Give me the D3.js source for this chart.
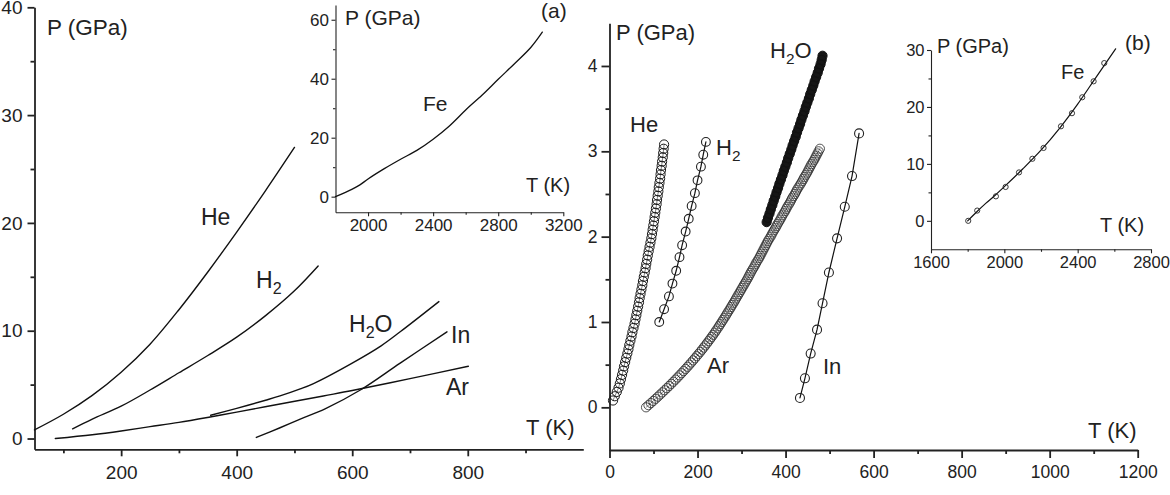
<!DOCTYPE html>
<html><head><meta charset="utf-8">
<script src="https://cdn.jsdelivr.net/npm/d3@7"></script>
<style>
html,body{margin:0;padding:0;background:#fff;}
svg{display:block;font-family:"Liberation Sans",Arial,sans-serif;}
</style></head><body>
<svg id="c" width="1170" height="495"></svg>
<script>
// ---------- data: left panel (melting curves) ----------
const heL_T = [50,100,150,200,250,300,350,400,450,500];
const heL_P = [0.8,2.25,4.0,6.15,8.75,11.95,15.45,19.15,23.0,27.0];
const h2L_T = [116,150,200,250,300,350,400,450,500,541];
const h2L_P = [0.9,1.8,3.0,4.5,6.1,7.7,9.4,11.4,13.7,16.0];
const arL_T = [86,150,200,250,300,354,400,475,550,600,700,801];
const arL_P = [0,0.35,0.7,1.1,1.5,2.0,2.45,3.2,3.95,4.45,5.55,6.7];
const h2oL_T = [355,400,450,475,510,533,600,650,683,750];
const h2oL_P = [2.16,2.8,3.55,3.95,4.6,5.1,7.0,8.6,9.9,12.7];
const inL_T = [434,475,510,553,614,683,764];
const inL_P = [0.1,1.0,1.8,2.75,4.5,7.0,9.9];
// inset (a)
const feA_T = [1800,1900,1950,2000,2100,2200,2300,2400,2500,2600,2700,2800,2900,3000,3071];
const feA_P = [0,2.5,4,6,9.5,12.7,15.7,19.5,24,29.4,34.4,39.8,45.1,50.6,55.8];

// ---------- data: right panel (points) ----------
const heR_P = [0.08,0.13,0.18,0.23,0.28,0.33,0.38,0.43,0.48,0.53,0.58,0.63,0.68,0.73,0.78,0.83,0.88,0.93,0.98,1.03,1.08,1.13,1.18,1.23,1.28,1.33,1.38,1.43,1.48,1.53,1.58,1.63,1.68,1.73,1.78,1.83,1.88,1.93,1.98,2.03,2.08,2.13,2.18,2.23,2.28,2.33,2.38,2.43,2.48,2.53,2.58,2.63,2.68,2.73,2.78,2.83,2.88,2.93,2.98,3.03,3.08];
const heR_T = [8,12,16.5,20.5,23.5,26,28.5,31,33,35.5,38,40.5,43,45,47.5,50,52,54.5,57,59,61,63,65,67,68.5,70.5,72.5,74.5,76,78,80,82,83.5,85.5,87,89,91,93,95,96.5,98,99.5,101,102.5,104,105.5,107,108,109.5,111,112,113.5,115,116,117,118.5,119.5,121,122,123,124];
const arR_P = [0,0.025,0.05,0.075,0.1,0.125,0.15,0.175,0.2,0.225,0.25,0.275,0.3,0.325,0.35,0.375,0.4,0.425,0.45,0.475,0.5,0.525,0.55,0.575,0.6,0.625,0.65,0.675,0.7,0.725,0.75,0.775,0.8,0.825,0.85,0.875,0.9,0.925,0.95,0.975,
  1.0,1.025,1.05,1.075,1.1,1.125,1.15,1.175,1.2,1.225,1.25,1.275,1.3,1.325,1.35,1.375,1.4,1.425,1.45,1.475,1.5,1.525,1.55,1.575,1.6,1.625,1.65,1.675,1.7,1.725,1.75,1.775,1.8,1.825,1.85,1.875,1.9,1.925,1.95,1.975,
  2.0,2.025,2.05,2.075,2.1,2.125,2.15,2.175,2.2,2.225,2.25,2.275,2.3,2.325,2.35,2.375,2.4,2.425,2.45,2.475,2.5,2.525,2.55,2.575,2.6,2.625,2.65,2.675,2.7,2.725,2.75,2.775,2.8,2.825,2.85,2.875,2.9,2.925,2.95,2.975,3.0,3.03];
const arR_T = [83,88.5,94,99.4,104.7,110,115.2,120.3,125.4,130.4,135.4,140.3,145.1,149.9,154.6,159.2,163.8,168.3,172.8,177.2,181.5,185.8,190,194.1,198.2,202.2,206.2,210.1,213.9,217.7,221.4,225,228.6,232.1,235.6,239,242.3,245.6,248.8,251.9,
  255,258.1,261.2,264.2,267.2,270.2,273.2,276.1,279,281.9,284.8,287.6,290.4,293.2,296,298.8,301.6,304.4,307.2,310,313,315.5,318,320.5,323,326,329,331.5,334,337,340,342.5,345,347.5,350,352.5,355,357.5,360,363,
  366,368.5,371,374,377,379.5,382,385,388,390.5,393,396,399,401.5,404,407,410,412.5,415,418,421,423.5,426,429,432,435,438,440.5,443,446,449,451.5,454,456.5,459,462,465,467.5,470,472.5,475,478];
const h2oR_P = [2.17,2.22,2.27,2.32,2.37,2.42,2.47,2.52,2.57,2.62,2.67,2.72,2.77,2.82,2.87,2.92,2.97,3.02,3.07,3.12,3.17,3.22,3.27,3.32,3.37,3.42,3.47,3.52,3.57,3.62,3.67,3.72,3.77,3.82,3.87,3.92,3.97,4.02,4.07,4.12];
const h2oR_T = [357,360,363.5,366.5,370,373,376.5,379.5,383,386,389.5,393,396,399.5,403,406,409.5,413,416,419.5,423,426,429.5,433,436,439.5,443,446,449.5,453,456,459.5,463,466,469.5,473,476,479.5,482,484];
const h2R_T = [113,124,135,143,151.5,159,165,173,180,186.6,194,200,207.7,213,219];
const h2R_P = [1.0,1.15,1.3,1.45,1.6,1.76,1.9,2.06,2.21,2.36,2.51,2.66,2.82,2.96,3.11];
const inR_T = [432.7,444,457,471.5,484,498.5,517,534.5,551,567];
const inR_P = [0.11,0.34,0.63,0.91,1.22,1.58,1.98,2.35,2.71,3.21];
// inset (b)
const feB_T = [1803,1852,1954,2007,2080,2153,2214,2309,2369,2425,2487,2545];
const feB_P = [0,1.8,4.3,5.95,8.5,10.9,12.8,16.6,18.9,21.7,24.5,27.7];
const feBfit_T = [1800,1850,1900,1950,2000,2100,2200,2300,2400,2500,2607];
const feBfit_P = [0,1.6,3.1,4.5,6.0,9.1,12.4,16.2,20.5,25.2,30.2];

// ticks
const tickL_x = [200,400,600,800], minorL_x = [100,300,500,700,900];
const tickL_y = [0,10,20,30,40], minorL_y = [5,15,25,35];
const tickA_x = [2000,2400,2800,3200], minorA_x = [2200,2600,3000];
const tickA_y = [0,20,40,60], minorA_y = [10,30,50];
const tickR_x = [0,200,400,600,800,1000,1200], minorR_x = [100,300,500,700,900,1100];
const tickR_y = [0,1,2,3,4], minorR_y = [0.5,1.5,2.5,3.5];
const tickB_x = [1600,2000,2400,2800], minorB_x = [1800,2200,2600];
const tickB_y = [0,10,20,30], minorB_y = [5,15,25];

const svg = d3.select("#c");
const INK = "#222";

const xL = d3.scaleLinear([50,1000],[34.5,583.3]);
const yL = d3.scaleLinear([-1,40],[449.3,7.3]);
const xA = d3.scaleLinear([1800,3200],[335.5,563.3]);
const yA = d3.scaleLinear([-5.3,65],[212.3,5]);
const xR = d3.scaleLinear([0,1200],[609.5,1137.7]);
const yR = d3.scaleLinear([-0.5,4.5],[450,23.3]);
const xB = d3.scaleLinear([1600,2800],[931,1151]);
const yB = d3.scaleLinear([-5,30],[249.3,50]);

function drawAxes(xs, ys, o){
  const gx = svg.append("g").attr("transform",`translate(0,${ys.range()[0]})`);
  gx.call(d3.axisBottom(xs).tickValues(o.tx).tickSize(o.tsize).tickSizeOuter(0).tickPadding(o.xpad).tickFormat(d3.format("d")));
  const gxm = svg.append("g").attr("transform",`translate(0,${ys.range()[0]})`);
  gxm.call(d3.axisBottom(xs).tickValues(o.mx).tickSize(o.msize).tickFormat(""));
  gxm.select(".domain").remove();
  const gy = svg.append("g").attr("transform",`translate(${xs.range()[0]},0)`);
  gy.call(d3.axisLeft(ys).tickValues(o.ty).tickSize(o.tsize).tickSizeOuter(0).tickPadding(o.ypad).tickFormat(d3.format("d")));
  const gym = svg.append("g").attr("transform",`translate(${xs.range()[0]},0)`);
  gym.call(d3.axisLeft(ys).tickValues(o.my).tickSize(o.msize).tickFormat(""));
  gym.select(".domain").remove();
  [gx,gxm,gy,gym].forEach(g=>{
    g.attr("font-family",null).attr("font-size",null);
    g.selectAll("path,line").attr("stroke",INK).attr("stroke-width",o.sw);
    g.selectAll("text").attr("fill",INK).style("font-size",o.fs+"px");
  });
}

drawAxes(xL,yL,{tx:tickL_x,mx:minorL_x,ty:tickL_y,my:minorL_y,tsize:7,msize:4,xpad:9,ypad:5,sw:1.8,fs:19});
drawAxes(xA,yA,{tx:tickA_x,mx:minorA_x,ty:tickA_y,my:minorA_y,tsize:4,msize:2.5,xpad:3,ypad:2.5,sw:1.1,fs:17});
drawAxes(xR,yR,{tx:tickR_x,mx:minorR_x,ty:tickR_y,my:minorR_y,tsize:8,msize:4,xpad:8,ypad:4,sw:1.8,fs:17.5});
drawAxes(xB,yB,{tx:tickB_x,mx:minorB_x,ty:tickB_y,my:minorB_y,tsize:4,msize:2.5,xpad:3,ypad:2.5,sw:1.1,fs:16.5});

function curve(xs, ys, T, P, sw, col, cv){
  const pts = T.map((t,i)=>[t,P[i]]);
  svg.append("path").datum(pts)
    .attr("d", d3.line().x(d=>xs(d[0])).y(d=>ys(d[1])).curve(cv||d3.curveCatmullRom.alpha(0.5)))
    .attr("fill","none").attr("stroke",col||"#111").attr("stroke-width",sw)
    .attr("stroke-linecap","round").attr("stroke-linejoin","round");
}
function dots(xs, ys, T, P, r, fill, stroke, sw){
  const pts = T.map((t,i)=>[t,P[i]]);
  svg.append("g").selectAll("circle").data(pts).join("circle")
    .attr("cx",d=>xs(d[0])).attr("cy",d=>ys(d[1])).attr("r",r)
    .attr("fill",fill).attr("stroke",stroke).attr("stroke-width",sw);
}

// left panel curves
curve(xL,yL,heL_T,heL_P,1.4);
curve(xL,yL,h2L_T,h2L_P,1.4);
curve(xL,yL,arL_T,arL_P,1.4);
curve(xL,yL,h2oL_T,h2oL_P,1.4);
curve(xL,yL,inL_T,inL_P,1.4);
// inset a
curve(xA,yA,feA_T,feA_P,1.3);

// right panel
curve(xR,yR,h2oR_T,h2oR_P,9,"#161616");
dots(xR,yR,h2oR_T,h2oR_P,4.6,"none","#111",1);
curve(xR,yR,heR_T,heR_P,0.8,"#666");
dots(xR,yR,heR_T,heR_P,4.6,"none","#1a1a1a",1);
curve(xR,yR,arR_T,arR_P,0.8,"#666");
dots(xR,yR,arR_T,arR_P,4.6,"none","#2a2a2a",0.8);
curve(xR,yR,h2R_T,h2R_P,1.2,"#111",d3.curveLinear);
dots(xR,yR,h2R_T,h2R_P,4.4,"none","#222",1.1);
curve(xR,yR,inR_T,inR_P,1.2,"#111",d3.curveLinear);
dots(xR,yR,inR_T,inR_P,4.5,"none","#222",1.1);
// inset b
curve(xB,yB,feBfit_T,feBfit_P,1.2);
dots(xB,yB,feB_T,feB_P,2.6,"none","#222",0.9);

// text labels
function label(x,y,txt,fs,sub,after){
  const t = svg.append("text").attr("x",x).attr("y",y).attr("fill",INK).style("font-size",fs+"px");
  t.append("tspan").text(txt);
  if(sub){
    t.append("tspan").attr("dy",6).style("font-size",(fs*0.7)+"px").text(sub);
    if(after) t.append("tspan").attr("dy",-6).text(after);
  }
}
label(47,35,"P (GPa)",22.5);
label(201,225,"He",23);
label(256,288,"H",23,"2");
label(349,332,"H",23,"2","O");
label(451,343,"In",23);
label(446,395,"Ar",23);
label(526,435,"T (K)",22);

label(345,25,"P (GPa)",21);
label(541,18,"(a)",21);
label(423,111,"Fe",21);
label(526,192,"T (K)",20);

label(616,40,"P (GPa)",22);
label(630,132,"He",22);
label(716,155,"H",22,"2");
label(770,58,"H",22,"2","O");
label(707,373,"Ar",22);
label(823,374,"In",22);
label(1088,438,"T (K)",22);

label(937,53,"P (GPa)",20);
label(1125,50,"(b)",21);
label(1061,79,"Fe",20);
label(1100,232,"T (K)",20);
</script></body></html>
